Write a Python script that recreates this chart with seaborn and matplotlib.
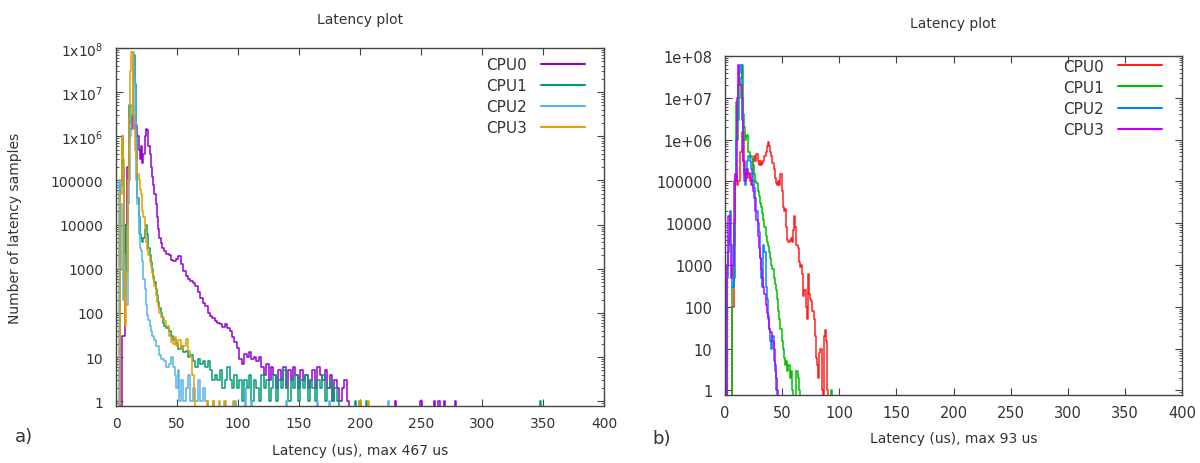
import numpy as np
import pandas as pd
import matplotlib
matplotlib.use("Agg")
import matplotlib.pyplot as plt
import seaborn as sns
from matplotlib.ticker import LogLocator, NullFormatter

# ---------------- data (latency in us, number of samples) ----------------
cpu_names = ["CPU0", "CPU1", "CPU2", "CPU3"]

# panel a)
a_cpu0 = [(4, 0), (6, 30), (8, 1e4), (10, 2e5), (12, 1.5e6), (14, 3e6), (16, 1.5e6), (17, 1.8e6),
          (18, 1e6), (19, 5e5), (20, 3e5), (21, 6e5), (22, 2.5e5), (23, 4e5), (24, 1e6), (25, 1.5e6),
          (26, 1.4e6), (27, 6e5), (28, 4e5), (29, 2e5), (30, 1.2e5), (31, 8e4), (32, 5e4), (33, 3e4),
          (34, 1.5e4), (35, 8000), (36, 5000), (37, 3800), (38, 3000), (40, 2500), (42, 2200), (44, 2000),
          (46, 1600), (48, 1500), (50, 1700), (52, 1900), (54, 1300), (56, 900), (58, 700), (60, 600),
          (62, 520), (64, 480), (66, 400), (68, 300), (70, 220), (72, 170), (74, 140), (76, 100),
          (78, 85), (80, 75), (82, 65), (84, 60), (86, 55), (88, 48), (90, 55), (92, 45), (94, 38),
          (96, 28), (98, 22), (100, 16), (102, 9), (104, 7), (106, 12), (108, 10), (110, 13), (112, 9),
          (114, 10), (116, 8), (118, 10), (120, 6), (122, 4), (124, 7), (126, 3), (128, 6), (130, 4),
          (132, 2), (134, 5), (136, 3), (138, 6), (140, 2), (142, 5), (144, 3), (146, 6), (148, 4),
          (150, 2), (152, 5), (154, 3), (156, 4), (158, 2), (160, 3), (162, 5), (164, 2), (166, 6),
          (168, 4), (170, 3), (172, 5), (174, 2), (176, 4), (178, 1), (180, 3), (182, 2), (184, 1),
          (186, 2), (188, 3), (190, 1), (192, 0), (228, 0), (229, 1), (230, 0), (249, 0), (250, 1),
          (251, 0), (260, 0), (261, 1), (262, 0), (265, 1), (266, 0), (268, 0), (269, 1), (270, 0),
          (277, 0), (278, 1), (279, 0)]
a_cpu1 = [(2, 0), (3, 0), (4, 8e4), (5, 1e6), (6, 2e5), (7, 1000), (8, 300), (9, 1e4), (10, 1e5),
          (11, 5e6), (12, 2e6), (13, 3e6), (14, 2e7), (15, 7e7), (16, 1.5e7), (17, 1e6), (18, 4e4),
          (19, 1.5e4), (20, 6000), (21, 5000), (22, 4000), (23, 5000), (24, 8000), (25, 1e4), (26, 6000),
          (27, 3000), (28, 2000), (29, 1400), (30, 1000), (31, 700), (32, 500), (33, 350), (34, 250),
          (35, 180), (36, 130), (37, 100), (38, 80), (39, 60), (40, 50), (42, 45), (44, 40), (46, 30),
          (48, 25), (50, 20), (52, 15), (54, 18), (56, 13), (58, 14), (60, 10), (62, 11), (64, 8),
          (66, 6), (68, 9), (70, 7), (72, 8), (74, 6), (76, 8), (78, 5), (80, 3), (82, 4), (84, 3),
          (86, 5), (88, 2), (90, 3), (92, 6), (94, 3), (96, 2), (98, 4), (100, 2), (102, 3), (104, 1),
          (106, 3), (108, 2), (110, 4), (112, 1), (114, 3), (116, 2), (118, 1), (120, 4), (122, 2),
          (124, 3), (126, 1), (128, 2), (130, 4), (132, 1), (134, 3), (136, 2), (138, 5), (140, 2),
          (142, 1), (144, 3), (146, 2), (148, 4), (150, 1), (152, 3), (154, 2), (156, 4), (158, 1),
          (160, 3), (162, 2), (164, 1), (166, 3), (168, 2), (170, 4), (172, 1), (174, 2), (176, 3),
          (178, 1), (180, 2), (182, 1), (184, 0), (195, 0), (196, 1), (197, 0), (199, 0), (200, 1),
          (201, 0), (204, 0), (205, 1), (206, 0), (347, 0), (348, 1), (349, 0)]
a_cpu2 = [(2, 0), (3, 1e5), (4, 3e4), (5, 1000), (6, 200), (7, 2000), (8, 300), (9, 150), (10, 3e4),
          (11, 1e5), (12, 1e6), (13, 5e6), (14, 8e7), (15, 2e7), (16, 2e6), (17, 1e5), (18, 3e4),
          (19, 6000), (20, 3000), (21, 2500), (22, 1500), (23, 600), (24, 350), (25, 150), (26, 90),
          (27, 70), (28, 50), (29, 40), (30, 30), (32, 25), (34, 18), (36, 11), (38, 9), (40, 8),
          (42, 6), (44, 7), (46, 10), (48, 6), (49, 4), (50, 2), (51, 5), (52, 1), (54, 3), (56, 1),
          (58, 2), (60, 4), (62, 1), (64, 2), (66, 1), (68, 3), (70, 1), (72, 2), (74, 1), (76, 0),
          (79, 0), (80, 1), (81, 0), (88, 0), (89, 1), (90, 0), (97, 0), (98, 1), (99, 0),
          (105, 0), (106, 2), (107, 0), (110, 0), (111, 1), (112, 0), (139, 0), (140, 1), (141, 0),
          (164, 0), (165, 1), (166, 0), (174, 0), (175, 1), (176, 0), (222, 0), (223, 1), (224, 0)]
a_cpu3 = [(3, 0), (4, 5e4), (5, 1e6), (6, 3e5), (7, 1000), (8, 50), (9, 800), (10, 1e5), (11, 2.5e6),
          (12, 3e7), (13, 8e7), (14, 3e6), (15, 1.5e6), (16, 5e5), (17, 3e5), (18, 1.4e5), (19, 1e5),
          (20, 6e4), (21, 5e4), (22, 2e4), (23, 1.5e4), (24, 9000), (25, 4000), (26, 2700), (27, 2000),
          (28, 1400), (29, 1100), (30, 800), (31, 600), (32, 400), (33, 250), (34, 180), (35, 140),
          (36, 100), (38, 80), (40, 67), (42, 50), (44, 30), (46, 22), (48, 20), (49, 28), (50, 18),
          (52, 25), (54, 15), (56, 18), (58, 26), (60, 14), (62, 10), (63, 4), (64, 1), (65, 0),
          (74, 0), (75, 1), (76, 0), (79, 0), (80, 1), (81, 0), (84, 0), (85, 1), (86, 0), (89, 0),
          (90, 1), (91, 0), (95, 0), (96, 1), (97, 0), (199, 0), (200, 1), (201, 0), (206, 0),
          (207, 1), (208, 0)]

# panel b)
b_cpu0 = [(5, 0), (7, 100), (8, 1e5), (9, 1.2e5), (10, 1.5e5), (11, 8e4), (12, 1e5), (14, 5e5),
          (16, 1.5e6), (17, 3e5), (18, 1.5e5), (19, 2e5), (20, 1.2e5), (21, 1.6e5), (22, 1e5),
          (23, 8e4), (24, 1.5e5), (25, 3e5), (26, 4e5), (27, 3e5), (28, 4.5e5), (29, 3e5), (30, 2.5e5),
          (31, 3e5), (32, 2.5e5), (33, 2.8e5), (34, 3e5), (35, 4e5), (36, 5e5), (37, 7e5), (38, 9e5),
          (39, 7e5), (40, 5e5), (41, 4e5), (42, 2.8e5), (43, 2e5), (44, 1.2e5), (45, 9e4), (46, 8e4),
          (47, 1e5), (48, 8e4), (49, 1.5e5), (50, 6e4), (51, 2.5e4), (52, 2e4), (53, 2.2e4), (54, 8000),
          (55, 4000), (56, 3500), (57, 4000), (58, 4500), (59, 3500), (60, 7000), (61, 1.5e4),
          (62, 8000), (63, 3000), (64, 2500), (65, 1200), (66, 900), (67, 1000), (68, 600), (69, 180),
          (70, 250), (71, 100), (72, 50), (73, 600), (74, 200), (75, 150), (76, 140), (77, 80),
          (78, 50), (79, 20), (80, 6), (81, 4), (82, 2), (83, 8), (84, 10), (85, 1), (86, 0), (87, 20),
          (88, 28), (89, 15), (90, 1), (91, 0)]
b_cpu1 = [(5, 0), (7, 300), (8, 3000), (9, 1e5), (10, 8e6), (11, 1e6), (12, 3e6), (13, 1e7), (14, 3e7),
          (15, 6e7), (16, 4e6), (17, 2e6), (18, 1e6), (19, 1.2e6), (20, 1.3e6), (21, 5e5), (22, 4e5),
          (23, 4e5), (24, 3.5e5), (25, 2.5e5), (26, 1.5e5), (27, 1e5), (28, 9e4), (29, 6e4), (30, 4.5e4),
          (31, 3e4), (32, 2.5e4), (33, 1.8e4), (34, 1.2e4), (35, 8000), (36, 5000), (37, 3500),
          (38, 2800), (39, 2000), (40, 1500), (41, 1000), (42, 800), (43, 500), (44, 350), (45, 250),
          (46, 150), (47, 80), (48, 50), (49, 30), (50, 15), (51, 10), (52, 6), (53, 4), (54, 5),
          (55, 3), (56, 4), (57, 2), (58, 3), (59, 1), (60, 0), (62, 0), (63, 3), (64, 2), (65, 1),
          (66, 0), (92, 0), (93, 1), (94, 0)]
b_cpu2 = [(1, 0), (2, 500), (3, 2000), (4, 5000), (5, 2e4), (6, 3000), (7, 300), (8, 500), (9, 1e5),
          (10, 1e6), (11, 3e6), (12, 2e7), (13, 4e7), (14, 6e7), (15, 1e7), (16, 3e5), (17, 1e5),
          (18, 8e4), (19, 2e5), (20, 3e5), (21, 4e5), (22, 3e5), (23, 2e5), (24, 1.5e5), (25, 1e5),
          (26, 7e4), (27, 4e4), (28, 2e4), (29, 1e4), (30, 6000), (31, 1500), (32, 500), (33, 300),
          (34, 3000), (35, 2000), (36, 300), (37, 150), (38, 60), (39, 30), (40, 15), (41, 10),
          (42, 20), (43, 5), (44, 3), (45, 1), (46, 0)]
b_cpu3 = [(1, 0), (2, 1000), (3, 1.5e4), (4, 1.5e4), (5, 3000), (6, 500), (7, 1000), (8, 1e4),
          (9, 1.5e5), (10, 1e5), (11, 1e7), (12, 6e7), (13, 2e7), (14, 2e7), (15, 3e6), (16, 3e5),
          (17, 1.5e5), (18, 1e5), (19, 1.5e5), (20, 2e5), (21, 1.5e5), (22, 1.2e5), (23, 1e5),
          (24, 8e4), (25, 6e4), (26, 4e4), (27, 2e4), (28, 1.2e4), (29, 5000), (30, 2500), (31, 1500),
          (32, 800), (33, 500), (34, 300), (35, 200), (36, 110), (37, 70), (38, 50), (39, 30),
          (40, 25), (41, 25), (42, 15), (43, 10), (44, 4), (45, 2), (46, 1), (47, 0)]

x_ticks = [0, 50, 100, 150, 200, 250, 300, 350, 400]
y_ticks = [1, 10, 100, 1000, 10000, 100000, 1e6, 1e7, 1e8]
a_ylabels = ["1", "10", "100", "1000", "10000", "100000",
             "1x10$^{6}$", "1x10$^{7}$", "1x10$^{8}$"]
b_ylabels = ["1", "10", "100", "1000", "10000", "100000", "1e+06", "1e+07", "1e+08"]
a_colors = ["#9400D3", "#009E73", "#56B4E9", "#E69F00"]
b_colors = ["#FF2020", "#00C000", "#0080FF", "#C000FF"]
a_xlabel = "Latency (us), max 467 us"
b_xlabel = "Latency (us), max 93 us"

# ---------------- drawing ----------------
sns.set_style("ticks")
plt.rcParams["font.family"] = ["DejaVu Sans"]
plt.rcParams["mathtext.default"] = "regular"

fig = plt.figure(figsize=(12, 4.64), dpi=100)
ax_a = fig.add_axes([0.0967, 0.1228, 0.4067, 0.7716])
ax_b = fig.add_axes([0.6042, 0.1466, 0.3808, 0.7306])


def draw(ax, series, colors, ylabels, xlabel, tick_fs, legend_anchor, title_pad, xlabel_y):
    frames = []
    for name, pairs in zip(cpu_names, series):
        df = pd.DataFrame(pairs, columns=["us", "n"])
        df["cpu"] = name
        frames.append(df)
    data = pd.concat(frames, ignore_index=True)
    sns.lineplot(data=data, x="us", y="n", hue="cpu", hue_order=cpu_names,
                 palette=colors, estimator=None, sort=False, drawstyle="steps-mid",
                 lw=1.1, legend=False, ax=ax)
    ax.set_yscale("log")
    ax.set_xlim(0, 400)
    ax.set_ylim(0.78, 1e8)
    ax.set_xticks(x_ticks)
    ax.set_yticks(y_ticks, ylabels)
    ax.yaxis.set_minor_locator(LogLocator(base=10, subs=np.arange(2, 10), numticks=30))
    ax.yaxis.set_minor_formatter(NullFormatter())
    ax.tick_params(which="both", direction="in", top=True, right=True,
                   color="#444444", labelcolor="#333333", labelsize=tick_fs)
    ax.tick_params(which="major", length=5, width=0.8)
    ax.tick_params(which="minor", length=2.5, width=0.6)
    ax.tick_params(axis="x", pad=7)
    ax.tick_params(axis="y", pad=9)
    for sp in ax.spines.values():
        sp.set_visible(True)
        sp.set_color("#444444")
        sp.set_linewidth(1.0)
    ax.set_title("Latency plot", fontsize=10, color="#333333", pad=title_pad)
    ax.set_xlabel(xlabel, fontsize=10, color="#333333")
    ax.xaxis.set_label_coords(0.5, xlabel_y)
    ax.set_ylabel("")
    leg = ax.legend(ax.lines[:4], cpu_names, loc="upper right", bbox_to_anchor=legend_anchor,
                    frameon=False, markerfirst=False, handlelength=2.9, handletextpad=0.9,
                    labelspacing=0.4, fontsize=11, borderaxespad=0, borderpad=0)
    for t in leg.get_texts():
        t.set_color("#333333")
    for h in leg.legend_handles:
        h.set_linewidth(1.5)


draw(ax_a, [a_cpu0, a_cpu1, a_cpu2, a_cpu3], a_colors, a_ylabels, a_xlabel, 10,
     (0.961, 0.975), 18, -0.103)
draw(ax_b, [b_cpu0, b_cpu1, b_cpu2, b_cpu3], b_colors, b_ylabels, b_xlabel, 10.5,
     (0.956, 0.992), 21, -0.105)

ax_a.set_ylabel("Number of latency samples", fontsize=10, color="#333333")
ax_a.yaxis.set_label_coords(-0.193, 0.5)

fig.text(15 / 1200, 1 - 437 / 464, "a)", fontsize=13, color="#333333", va="center", ha="left")
fig.text(652 / 1200, 1 - 439 / 464, "b)", fontsize=13, color="#333333", va="center", ha="left")

fig.savefig("out.png", dpi=100)
